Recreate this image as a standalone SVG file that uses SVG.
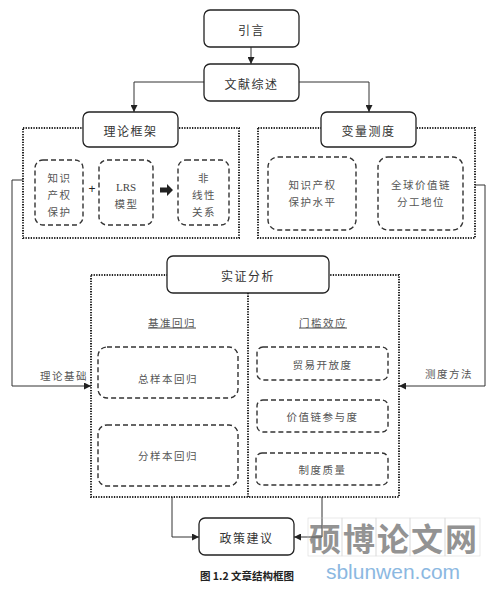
<svg xmlns="http://www.w3.org/2000/svg" width="497" height="589" viewBox="0 0 497 589">
<defs>
<marker id="ah" viewBox="0 0 10 10" refX="10" refY="5" markerWidth="7" markerHeight="7" markerUnits="userSpaceOnUse" orient="auto"><path d="M0,0 L10,5 L0,10 z" fill="#222"/></marker>
<style>
.solid{fill:#fff;stroke:#222;stroke-width:1.3}
.dot{fill:none;stroke:#222;stroke-width:2;stroke-dasharray:1.3 1.3}
.dash{fill:none;stroke:#333;stroke-width:1.4;stroke-dasharray:5 3}
.conn{fill:none;stroke:#333;stroke-width:1}
text{font-family:"Noto Sans CJK SC","Liberation Sans",sans-serif;fill:#333;text-anchor:middle;dominant-baseline:central}
.t{font-size:12px;letter-spacing:1.5px}
.s{font-size:10.5px;letter-spacing:1.5px;fill:#555}
.u{text-decoration:underline}
</style>
</defs>
<rect width="497" height="589" fill="#fff"/>
<g id="connectors">
<path class="conn" d="M251,47 V64" marker-end="url(#ah)"/>
<path class="conn" d="M204,82 H134 V112" marker-end="url(#ah)"/>
<path class="conn" d="M299,82 H369 V112" marker-end="url(#ah)"/>
<path class="conn" d="M23,180 H12 V386 H91" marker-end="url(#ah)"/>
<path class="conn" d="M475,185 H485 V386 H399" marker-end="url(#ah)"/>
<path class="conn" d="M172,497 V537 H199" marker-end="url(#ah)"/>
<path class="conn" d="M322,497 V537 H294" marker-end="url(#ah)"/>
<path d="M160,187.5 H167 V184 L173,190 L167,196 V192.5 H160 z" fill="#222"/>
</g>
<g id="intro"><rect class="solid" x="204" y="10" width="95" height="37" rx="6"/><text class="t" x="251.5" y="29">引言</text></g>
<g id="review"><rect class="solid" x="204" y="64" width="95" height="37" rx="6"/><text class="t" x="251.5" y="83">文献综述</text></g>
<g id="theory-frame"><rect class="dot" x="23" y="128" width="216" height="110"/></g>
<g id="theory"><rect class="solid" x="83" y="112" width="95" height="35" rx="6"/><text class="t" x="130.5" y="130">理论框架</text></g>
<g id="ipr"><rect class="dash" x="35" y="160" width="48" height="65" rx="8"/><text class="s" x="59.5" y="177">知识</text><text class="s" x="59.5" y="194">产权</text><text class="s" x="59.5" y="211">保护</text></g>
<text x="92" y="189" style="font-size:12px;font-family:'Liberation Sans',sans-serif;fill:#222">+</text>
<g id="lrs"><rect class="dash" x="99" y="160" width="54" height="65" rx="8"/><text x="126" y="187" style="font-size:11px;font-family:'Liberation Serif',serif;fill:#444">LRS</text><text class="s" x="126.5" y="203">模型</text></g>
<g id="nonlinear"><rect class="dash" x="178" y="160" width="51" height="65" rx="8"/><text class="s" x="204" y="177">非</text><text class="s" x="204" y="194">线性</text><text class="s" x="204" y="211">关系</text></g>
<g id="measure-frame"><rect class="dot" x="258" y="128" width="217" height="110"/></g>
<g id="measure"><rect class="solid" x="321" y="112" width="95" height="35" rx="6"/><text class="t" x="368.5" y="130">变量测度</text></g>
<g id="ipr-level"><rect class="dash" x="268" y="157" width="88" height="73" rx="10"/><text class="s" x="312.5" y="184">知识产权</text><text class="s" x="312.5" y="201">保护水平</text></g>
<g id="gvc"><rect class="dash" x="378" y="157" width="85" height="73" rx="10"/><text class="s" x="421" y="184">全球价值链</text><text class="s" x="421" y="201">分工地位</text></g>
<g id="empirical-frame"><rect class="dot" x="91" y="275" width="308" height="222"/><path class="dot" d="M248,293 V497"/></g>
<g id="empirical"><rect class="solid" x="167" y="256" width="162" height="37" rx="6"/><text class="t" x="248" y="275">实证分析</text></g>
<text class="s u" x="172" y="322">基准回归</text>
<text class="s u" x="323" y="322">门槛效应</text>
<g id="full"><rect class="dash" x="98" y="347" width="140" height="51" rx="9"/><text class="s" x="168" y="378">总样本回归</text></g>
<g id="sub"><rect class="dash" x="98" y="425" width="140" height="61" rx="9"/><text class="s" x="168" y="455">分样本回归</text></g>
<g id="trade"><rect class="dash" x="257" y="347" width="131" height="33" rx="6"/><text class="s" x="322.5" y="364">贸易开放度</text></g>
<g id="gvc-part"><rect class="dash" x="257" y="400" width="131" height="32" rx="6"/><text class="s" x="322.5" y="416">价值链参与度</text></g>
<g id="inst"><rect class="dash" x="256" y="453" width="132" height="32" rx="6"/><text class="s" x="322.5" y="469">制度质量</text></g>
<g id="policy"><rect class="solid" x="199" y="518" width="95" height="37" rx="6"/><text class="t" x="246.5" y="537">政策建议</text></g>
<text x="64" y="375" class="s">理论基础</text>
<text x="449" y="373" class="s">测度方法</text>
<text x="247" y="575" style="font-size:10.5px;font-family:'Noto Sans CJK SC',serif;font-weight:bold;fill:#222">图 1.2 文章结构框图</text>
<g id="watermark" opacity="0.7">
<g fill="none" stroke="#ccc" stroke-width="0.6"><rect x="308" y="518" width="34" height="38"/><rect x="342" y="518" width="34" height="38"/><rect x="376" y="518" width="34" height="38"/><rect x="410" y="518" width="35" height="38"/><rect x="445" y="518" width="35" height="38"/></g>
<text x="394" y="537" style="font-size:32px;font-weight:bold;fill:#666;letter-spacing:2px">硕博论文网</text>
<text x="393" y="571" style="font-size:21px;font-family:'Liberation Sans',sans-serif;fill:#5b9bd5">sblunwen.com</text>
</g>
</svg>
